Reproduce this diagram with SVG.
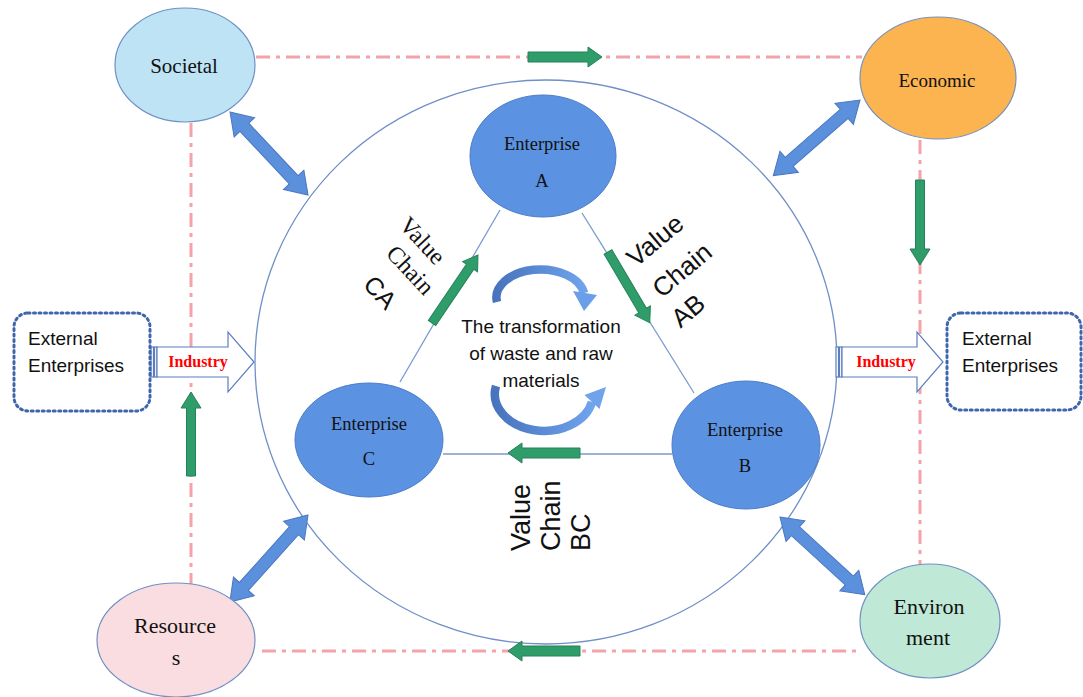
<svg xmlns="http://www.w3.org/2000/svg" width="1083" height="697" viewBox="0 0 1083 697">
  <defs>
    <linearGradient id="cycleGrad" x1="0" y1="0" x2="1" y2="0">
      <stop offset="0" stop-color="#4774bd"/>
      <stop offset="1" stop-color="#6fa3ec"/>
    </linearGradient>
    <style>
      .frame { fill: none; stroke: #f4a3ab; stroke-width: 3; stroke-dasharray: 14 6 4 6; }
      .ring { fill: none; stroke: #6f8fc8; stroke-width: 1.3; }
      .link { stroke: #7a9ad0; stroke-width: 1.3; fill: none; }
      .ent { fill: #5b93e2; stroke: #4d7cc6; stroke-width: 1; }
      .serif { font-family: "Liberation Serif", "Times New Roman", serif; fill: #111; }
      .sans { font-family: "Liberation Sans", Arial, sans-serif; fill: #111; }
      .green { fill: #2f9d69; stroke: #27805a; stroke-width: 1; }
      .blue2 { fill: #5b90dc; stroke: #4a77c0; stroke-width: 1; }
      .ext { fill: #fff; stroke: #3f66aa; stroke-width: 3; stroke-dasharray: 2 3.5; stroke-linecap: round; }
      .ind { fill: #fff; stroke: #5b7ec2; stroke-width: 1.2; }
      .indText { font-family: "Liberation Serif", "Times New Roman", serif; font-weight: bold; font-size: 16px; fill: #ff0000; }
      .cyc { fill: none; stroke: url(#cycleGrad); stroke-width: 8.5; }
    </style>
  </defs>

  <!-- dash-dot frame linking the four outer spheres -->
  <g id="frame">
    <line class="frame" x1="256" y1="57" x2="862" y2="57"/>
    <line class="frame" x1="920" y1="140" x2="920" y2="565"/>
    <line class="frame" x1="262" y1="651" x2="862" y2="651"/>
    <line class="frame" x1="191" y1="123" x2="191" y2="584"/>
  </g>

  <!-- industry boundary -->
  <ellipse id="industry-ring" class="ring" cx="546" cy="362" rx="291" ry="282"/>

  <g id="connectors">
    <!-- triangle of value chains -->
    <line class="link" x1="500" y1="210" x2="400" y2="382"/>
    <line class="link" x1="582" y1="213" x2="694" y2="393"/>
    <line class="link" x1="443" y1="454" x2="672" y2="454"/>

    <!-- green flow arrows -->
    <polygon class="green" transform="translate(528,57)" points="0,-5 60,-5 60,-10 74,0 60,10 60,5 0,5"/>
    <polygon class="green" transform="translate(580,651) rotate(180)" points="0,-5 58,-5 58,-10 72,0 58,10 58,5 0,5"/>
    <polygon class="green" transform="translate(920,180) rotate(90)" points="0,-4.5 69,-4.5 69,-10 85,0 69,10 69,4.5 0,4.5"/>
    <polygon class="green" transform="translate(191,476) rotate(-90)" points="0,-4.5 68,-4.5 68,-10 84,0 68,10 68,4.5 0,4.5"/>
    <polygon class="green" transform="translate(432,323) rotate(-55.9)" points="0,-4.5 68,-4.5 68,-9 82,0 68,9 68,4.5 0,4.5"/>
    <polygon class="green" transform="translate(608,252) rotate(59.4)" points="0,-4.5 68,-4.5 68,-9 82,0 68,9 68,4.5 0,4.5"/>
    <polygon class="green" transform="translate(580,453) rotate(180)" points="0,-5 58,-5 58,-10 72,0 58,10 58,5 0,5"/>

    <!-- two-way exchanges with the outer spheres -->
    <polygon class="blue2" transform="translate(230,112) rotate(46.8)" points="0,0 21,-14 21,-6 93,-6 93,-14 114,0 93,14 93,6 21,6 21,14"/>
    <polygon class="blue2" transform="translate(860,100) rotate(138.9)" points="0,0 21,-14 21,-6 94,-6 94,-14 115,0 94,14 94,6 21,6 21,14"/>
    <polygon class="blue2" transform="translate(308,515) rotate(131.9)" points="0,0 21,-14 21,-6 96,-6 96,-14 117,0 96,14 96,6 21,6 21,14"/>
    <polygon class="blue2" transform="translate(780,517) rotate(42.5)" points="0,0 21,-14 21,-6 94,-6 94,-14 115,0 94,14 94,6 21,6 21,14"/>

    <!-- industry block arrows -->
    <g id="industry-left">
      <rect class="ind" x="151" y="347" width="2.5" height="30"/>
      <rect class="ind" x="154.5" y="347" width="2.5" height="30"/>
      <polygon class="ind" points="157,347 228,347 228,332 254,362 228,392 228,377 157,377"/>
      <text class="indText" x="198" y="367" text-anchor="middle">Industry</text>
    </g>
    <g id="industry-right">
      <rect class="ind" x="836" y="347" width="2.5" height="30"/>
      <rect class="ind" x="839.5" y="347" width="2.5" height="30"/>
      <polygon class="ind" points="842,347 917,347 917,332 943,362 917,392 917,377 842,377"/>
      <text class="indText" x="886" y="367" text-anchor="middle">Industry</text>
    </g>

    <!-- value chain labels -->
    <g transform="translate(398,226) rotate(47)">
      <text class="serif" font-size="24" x="0" y="0">Value</text>
      <text class="serif" font-size="24" x="12" y="29">Chain</text>
      <text class="sans" font-size="25" x="19" y="67">CA</text>
    </g>
    <g transform="translate(636,268) rotate(-40)">
      <text class="sans" font-size="26" x="0" y="0">Value</text>
      <text class="sans" font-size="26" x="0" y="40">Chain</text>
      <text class="sans" font-size="26" x="-5" y="75">AB</text>
    </g>
    <g transform="translate(530,551) rotate(-90)">
      <text class="sans" font-size="27" x="0" y="0">Value</text>
      <text class="sans" font-size="27" x="0" y="30">Chain</text>
      <text class="sans" font-size="27" x="0" y="60">BC</text>
    </g>
  </g>

  <!-- transformation cycle in the centre -->
  <g id="cycle">
    <path class="cyc" d="M 497,302 A 44 28 0 0 1 584,293"/>
    <polygon fill="#6a9ee8" points="573,291 597,295 584,311"/>
    <path class="cyc" d="M 496,386 A 48 36 0 0 0 592,402"/>
    <polygon fill="#6fa3ec" points="584.5,395 599.5,409 606,387"/>
    <text class="sans" font-size="19" x="541" y="333" text-anchor="middle">The transformation</text>
    <text class="sans" font-size="19" x="541" y="360" text-anchor="middle">of waste and raw</text>
    <text class="sans" font-size="19" x="541" y="387" text-anchor="middle">materials</text>
  </g>

  <g id="enterprise-a">
    <ellipse class="ent" cx="543" cy="156" rx="73" ry="61"/>
    <text class="serif" font-size="18.5" x="542" y="150" text-anchor="middle">Enterprise</text>
    <text class="serif" font-size="18.5" x="542" y="187" text-anchor="middle">A</text>
  </g>
  <g id="enterprise-c">
    <ellipse class="ent" cx="369" cy="440" rx="74" ry="57"/>
    <text class="serif" font-size="18.5" x="369" y="430" text-anchor="middle">Enterprise</text>
    <text class="serif" font-size="18.5" x="369" y="465" text-anchor="middle">C</text>
  </g>
  <g id="enterprise-b">
    <ellipse class="ent" cx="746" cy="445" rx="74" ry="64"/>
    <text class="serif" font-size="18.5" x="745" y="436" text-anchor="middle">Enterprise</text>
    <text class="serif" font-size="18.5" x="745" y="472" text-anchor="middle">B</text>
  </g>

  <g id="societal">
    <ellipse cx="185" cy="65" rx="70" ry="57" fill="#bee3f5" stroke="#6f90c4" stroke-width="1.2"/>
    <text class="serif" font-size="21" x="184" y="73" text-anchor="middle">Societal</text>
  </g>
  <g id="economic">
    <ellipse cx="938" cy="78" rx="78" ry="61" fill="#fbb44f" stroke="#7890b8" stroke-width="1.2"/>
    <text class="serif" font-size="19" x="937" y="87" text-anchor="middle">Economic</text>
  </g>
  <g id="resources">
    <ellipse cx="176" cy="640" rx="79" ry="57" fill="#fadde1" stroke="#6f90c4" stroke-width="1.2"/>
    <text class="serif" font-size="22" x="175" y="633" text-anchor="middle">Resource</text>
    <text class="serif" font-size="22" x="176" y="665" text-anchor="middle">s</text>
  </g>
  <g id="environment">
    <ellipse cx="930" cy="621" rx="70" ry="57" fill="#bfe9d6" stroke="#6f90c4" stroke-width="1.2"/>
    <text class="serif" font-size="22" x="929" y="614" text-anchor="middle">Environ</text>
    <text class="serif" font-size="22" x="928" y="645" text-anchor="middle">ment</text>
  </g>

  <g id="external-left">
    <rect class="ext" x="14" y="313" width="136" height="98" rx="14"/>
    <text class="sans" font-size="19" x="28" y="345">External</text>
    <text class="sans" font-size="19" x="28" y="372">Enterprises</text>
  </g>
  <g id="external-right">
    <rect class="ext" x="947" y="313" width="134" height="97" rx="14"/>
    <text class="sans" font-size="19" x="962" y="345">External</text>
    <text class="sans" font-size="19" x="962" y="372">Enterprises</text>
  </g>
</svg>
